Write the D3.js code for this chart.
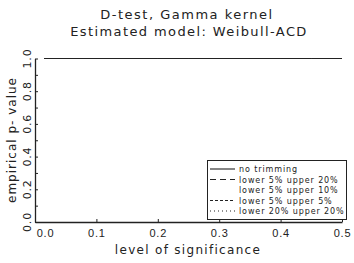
<!DOCTYPE html>
<html>
<head>
<meta charset="utf-8">
<script src="https://cdn.jsdelivr.net/npm/d3@7"></script>
<style>
  body { margin: 0; background: #fff; }
  svg { font-family: "DejaVu Sans", sans-serif; }
</style>
</head>
<body>
<svg id="chart" width="354" height="263"></svg>
<script>
const levels = [0.0, 0.05, 0.1, 0.15, 0.2, 0.25, 0.3, 0.35, 0.4, 0.45, 0.5];
const noTrim = [1, 1, 1, 1, 1, 1, 1, 1, 1, 1, 1];
const low5up20 = [1, 1, 1, 1, 1, 1, 1, 1, 1, 1, 1];
const low5up10 = [1, 1, 1, 1, 1, 1, 1, 1, 1, 1, 1];
const low5up5 = [1, 1, 1, 1, 1, 1, 1, 1, 1, 1, 1];
const low20up20 = [1, 1, 1, 1, 1, 1, 1, 1, 1, 1, 1];
const seriesNames = ["no trimming", "lower 5% upper 20%", "lower 5% upper 10%", "lower 5% upper 5%", "lower 20% upper 20%"];
const xTicks = [0, 0.1, 0.2, 0.3, 0.4, 0.5];
const yTicks = [0, 0.2, 0.4, 0.6, 0.8, 1.0];

const ink = "#222";
const dashes = [null, "6,4", "1,50", "3,2", "1,3"];
const allSeries = [noTrim, low5up20, low5up10, low5up5, low20up20];

const svg = d3.select("#chart");
const x = d3.scaleLinear().domain([0, 0.5]).range([35, 342]);
const y = d3.scaleLinear().domain([0, 1]).range([222, 58.5]);

// titles
svg.append("text").attr("x", 187).attr("y", 19).attr("text-anchor", "middle")
  .style("font-size", "13px").style("fill", ink).style("letter-spacing", "1.5px")
  .text("D-test, Gamma kernel");
svg.append("text").attr("x", 189).attr("y", 36).attr("text-anchor", "middle")
  .style("font-size", "13px").style("fill", ink).style("letter-spacing", "1.4px")
  .text("Estimated model: Weibull-ACD");

// axes
const xAxis = svg.append("g").attr("transform", `translate(0,${y(0)})`)
  .call(d3.axisBottom(x).tickValues(xTicks).tickFormat(d3.format(".1f")).tickSizeInner(-3).tickSizeOuter(0).tickPadding(7));
xAxis.select(".domain").attr("stroke", ink).attr("stroke-width", 1.3);
xAxis.selectAll(".tick line").attr("stroke", ink);
xAxis.selectAll("text").style("font-size", "11px").style("fill", ink).style("letter-spacing", "0.8px")
  .attr("dx", d => d === 0 ? 10 : 0);

const yAxis = svg.append("g").attr("transform", `translate(${x(0)},0)`)
  .call(d3.axisLeft(y).ticks(10).tickSizeInner(-3).tickSizeOuter(0).tickFormat(""));
yAxis.select(".domain").attr("stroke", ink).attr("stroke-width", 1.3);
yAxis.selectAll(".tick line").attr("stroke", ink);

svg.append("g").selectAll("text").data(yTicks).join("text")
  .attr("transform", d => `translate(31,${y(d)}) rotate(-90)`)
  .attr("text-anchor", "middle")
  .style("font-size", "11px").style("fill", ink).style("letter-spacing", "0.8px")
  .text(d => d3.format(".1f")(d));

svg.append("text").attr("transform", "translate(16,140) rotate(-90)")
  .attr("text-anchor", "middle").style("font-size", "12px").style("fill", ink)
  .style("letter-spacing", "1px")
  .text("empirical p- value");
svg.append("text").attr("x", 188).attr("y", 254).attr("text-anchor", "middle")
  .style("font-size", "12px").style("fill", ink).style("letter-spacing", "1.3px")
  .text("level of significance");

// lines (all series coincide at 1.0); solid one drawn last
const line = d3.line().x((d, i) => x(levels[i]) + (i === 0 ? 9 : 0)).y(d => y(d));
[4, 3, 2, 1, 0].forEach(k => {
  svg.append("path").datum(allSeries[k]).attr("d", line)
    .attr("fill", "none").attr("stroke", ink).attr("stroke-width", 1)
    .attr("stroke-dasharray", dashes[k]);
});

// legend
const lg = svg.append("g");
lg.append("rect").attr("x", 207.5).attr("y", 160.5).attr("width", 139).attr("height", 59)
  .attr("fill", "#fff").attr("stroke", ink).attr("stroke-width", 1);
seriesNames.forEach((name, i) => {
  const ly = 169 + i * 10.5;
  if (i !== 2) {
    lg.append("line").attr("x1", 210).attr("x2", 235).attr("y1", ly).attr("y2", ly)
      .attr("stroke", ink).attr("stroke-width", 1.1)
      .attr("stroke-dasharray", dashes[i]);
  }
  lg.append("text").attr("x", 239).attr("y", ly + 3)
    .style("font-size", "8px").style("fill", ink).style("letter-spacing", "0.9px")
    .text(name);
});
</script>
</body>
</html>
